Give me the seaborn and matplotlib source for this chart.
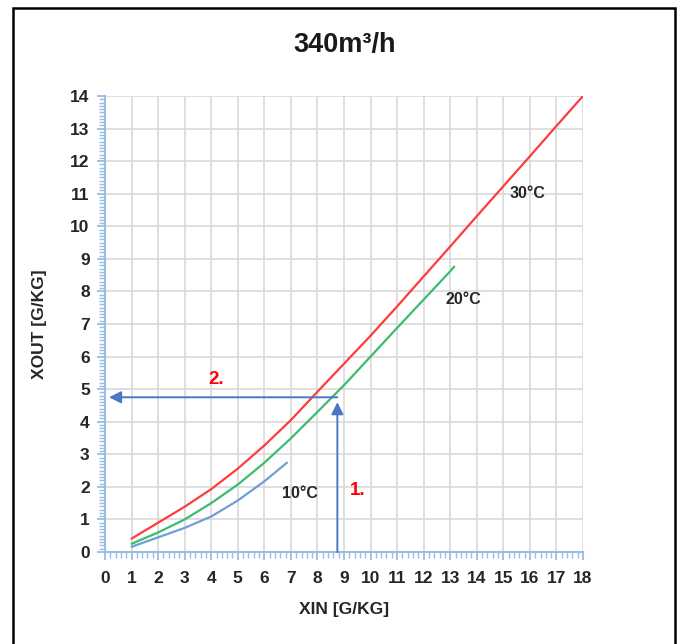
import numpy as np
import pandas as pd
import matplotlib
matplotlib.use("Agg")
import matplotlib.pyplot as plt
from matplotlib.patches import Rectangle
from matplotlib.ticker import MultipleLocator
import seaborn as sns

sns.set_style("white")
plt.rcParams["font.family"] = ["Liberation Sans", "DejaVu Sans"]
plt.rcParams["font.weight"] = "bold"

# ─── data ────────────────────────────────────────────────────────────────────
x30 = [1, 2, 3, 4, 5, 6, 7, 8, 9, 10, 11, 12, 13, 14, 15, 16, 17, 18]
y30 = [0.41, 0.90, 1.39, 1.93, 2.56, 3.27, 4.05, 4.92, 5.78, 6.64, 7.54,
       8.46, 9.38, 10.31, 11.23, 12.15, 13.08, 14.0]

x20 = [1, 2, 3, 4, 5, 6, 7, 8, 9, 10, 11, 12, 13, 13.15]
y20 = [0.25, 0.60, 1.00, 1.50, 2.07, 2.74, 3.49, 4.30, 5.12, 6.00, 6.88,
       7.75, 8.62, 8.76]

x10 = [1, 2, 3, 4, 5, 6, 6.85]
y10 = [0.16, 0.45, 0.74, 1.09, 1.58, 2.17, 2.74]

curve_labels = ["30°C", "20°C", "10°C"]
label_pos = [(15.9, 11.0), (13.5, 7.75), (7.35, 1.8)]

xin_read = 8.75      # step 1: read XIN
xout_read = 4.75     # step 2: resulting XOUT
step_labels = ["1.", "2."]
step_pos = [(9.5, 1.9), (4.2, 5.3)]

RED, GREEN, BLUE = "#FF3B3B", "#3DBB6E", "#6F9FD3"
ARROW = "#4A77C6"
AXIS = "#9BBCE3"
TXT = "#262626"

df = pd.concat([
    pd.DataFrame({"xin": x30, "xout": y30, "t": "30°C"}),
    pd.DataFrame({"xin": x20, "xout": y20, "t": "20°C"}),
    pd.DataFrame({"xin": x10, "xout": y10, "t": "10°C"}),
])

fig = plt.figure(figsize=(6.8, 6.44), dpi=100)
ax = fig.add_axes([105 / 680, 1 - 552 / 644, 478 / 680, 456 / 644])

sns.lineplot(data=df, x="xin", y="xout", hue="t", sort=False,
             palette={"30°C": RED, "20°C": GREEN, "10°C": BLUE},
             lw=1.6, legend=False, ax=ax, zorder=3)

ax.set_xlim(0, 18)
ax.set_ylim(0, 14)
ax.xaxis.set_major_locator(MultipleLocator(1))
ax.yaxis.set_major_locator(MultipleLocator(1))
ax.xaxis.set_minor_locator(MultipleLocator(0.2))
ax.yaxis.set_minor_locator(MultipleLocator(0.1))
ax.grid(True, which="major", color="#D9D9D9", lw=1.2)
ax.set_axisbelow(True)

for s in ["top", "right"]:
    ax.spines[s].set_visible(False)
for s in ["left", "bottom"]:
    ax.spines[s].set_color(AXIS)
    ax.spines[s].set_linewidth(1.5)
ax.tick_params(which="both", bottom=True, left=True, direction="out",
               color=AXIS)
ax.tick_params(which="major", length=6, width=1.3, labelsize=12.5,
               labelcolor=TXT)
ax.tick_params(axis="x", which="major", pad=8)
ax.tick_params(axis="y", which="major", pad=5)
ax.tick_params(which="minor", length=4, width=1.0)

ax.set_xlabel("XIN [G/KG]", fontsize=12.5, fontweight="bold", labelpad=11,
              color=TXT)
ax.set_ylabel("XOUT [G/KG]", fontsize=12.5, fontweight="bold", labelpad=17,
              color=TXT)

for lab, (lx, ly) in zip(curve_labels, label_pos):
    ax.text(lx, ly, lab, fontsize=11.5, fontweight="bold", color=TXT,
            ha="center", va="center")
for lab, (lx, ly) in zip(step_labels, step_pos):
    ax.text(lx, ly, lab, fontsize=13.5, fontweight="bold", color="#FF0000",
            ha="center", va="center")

# reading arrows
ax.annotate("", xy=(xin_read, xout_read - 0.15), xytext=(xin_read, 0),
            arrowprops=dict(arrowstyle="-|>", color=ARROW, lw=1.4,
                            mutation_scale=18, shrinkA=0, shrinkB=0), zorder=4)
ax.annotate("", xy=(0.15, xout_read), xytext=(xin_read, xout_read),
            arrowprops=dict(arrowstyle="-|>", color=ARROW, lw=1.4,
                            mutation_scale=18, shrinkA=0, shrinkB=0), zorder=4)

fig.text(345 / 680, 1 - 45 / 644, "340m³/h", fontsize=19.5, fontweight="bold",
         ha="center", va="center", color="#1a1a1a")

fig.patches.append(Rectangle((13 / 680, -0.02), 662 / 680, 1 - 8 / 644 + 0.02,
                             transform=fig.transFigure, fill=False,
                             ec="black", lw=1.8))

fig.savefig("out.png", dpi=100)
